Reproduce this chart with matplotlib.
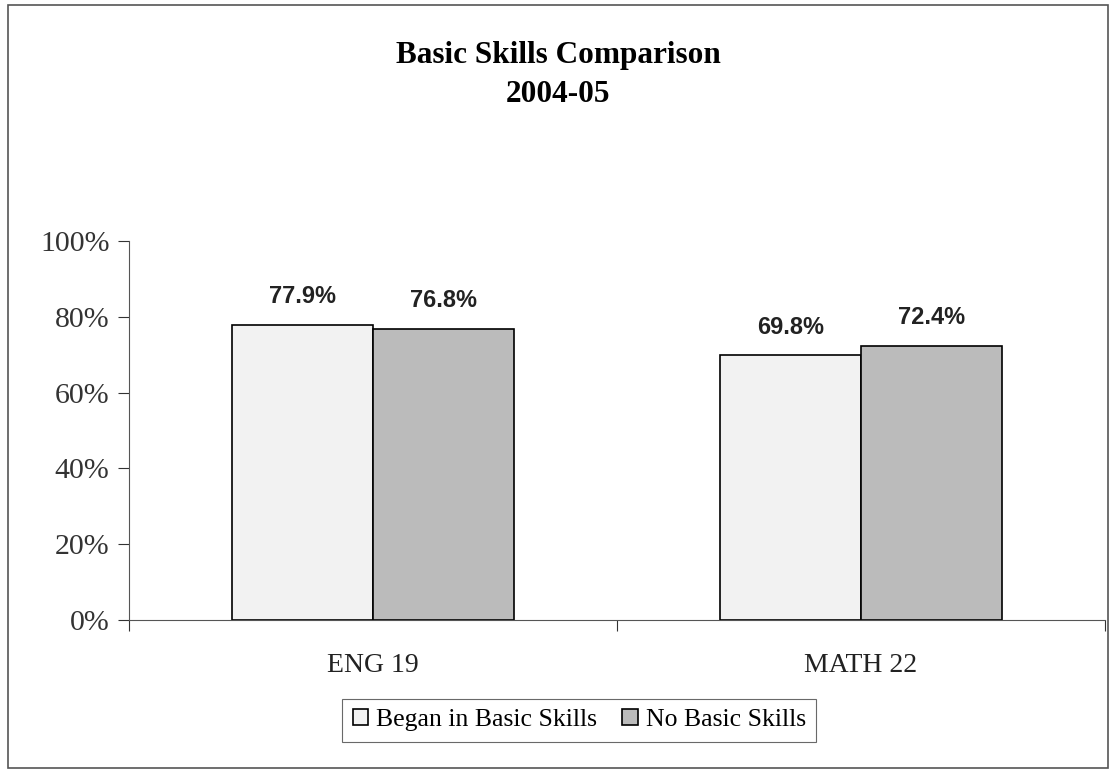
import matplotlib
matplotlib.use('Agg')
import matplotlib.pyplot as plt
import numpy as np
from matplotlib.patches import Rectangle

categories = ['ENG 19', 'MATH 22']
began_basic = [77.9, 69.8]
no_basic = [76.8, 72.4]
series_names = ['Began in Basic Skills', 'No Basic Skills']
yticks = [0, 20, 40, 60, 80, 100]

plt.rcParams['font.family'] = ['Liberation Serif', 'DejaVu Serif']

fig = plt.figure(figsize=(11.16, 7.75), dpi=100)
ax = fig.add_axes([0.1156, 0.2, 0.8744, 0.489])

x = np.arange(len(categories))
w = 0.289
b1 = ax.bar(x - w / 2, began_basic, w, color='#f2f2f2', edgecolor='black', linewidth=1.2,
            label=series_names[0])
b2 = ax.bar(x + w / 2, no_basic, w, color='#bbbbbb', edgecolor='black', linewidth=1.2,
            label=series_names[1])

for bars, vals in ((b1, began_basic), (b2, no_basic)):
    for r, v in zip(bars, vals):
        ax.annotate(f'{v:.1f}%', (r.get_x() + r.get_width() / 2, v), xytext=(0, 12),
                    textcoords='offset points', ha='center', va='bottom',
                    fontsize=17, fontweight='bold', family='Liberation Sans', color='#222222')

ax.set_xlim(-0.5, 1.5)
ax.set_ylim(0, 100)
ax.set_yticks(yticks)
ax.set_yticklabels([f'{t}%' for t in yticks], fontsize=21.5)
ax.tick_params(axis='y', direction='out', length=8, width=0.8, pad=6, colors='#333333')
ax.set_xticks([-0.5, 0.5, 1.5])
ax.set_xticklabels([])
ax.set_xticks(x, minor=True)
ax.set_xticklabels(categories, minor=True, fontsize=20)
ax.tick_params(axis='x', which='major', direction='out', length=8, width=0.8, colors='#333333')
ax.tick_params(axis='x', which='minor', length=0, pad=24, labelcolor='#222222')
for s in ('top', 'right'):
    ax.spines[s].set_visible(False)
ax.spines['left'].set_color('#555555')
ax.spines['bottom'].set_color('#555555')

fig.text(0.5, 0.928, 'Basic Skills Comparison', ha='center', va='center',
         fontsize=22.5, fontweight='bold')
fig.text(0.5, 0.878, '2004-05', ha='center', va='center', fontsize=22.5, fontweight='bold')

leg = fig.legend(handles=[b1, b2], loc='center', ncol=2, fontsize=18.5, frameon=True,
                 fancybox=False, handlelength=0.6, handleheight=0.6, handletextpad=0.3,
                 columnspacing=1.0, borderpad=0.4)
leg.set_bbox_to_anchor((0.519, 0.0706), transform=fig.transFigure)
leg.get_frame().set_edgecolor('#444444')
leg.get_frame().set_linewidth(0.8)

fig.patches.append(Rectangle((0.007, 0.009), 0.986, 0.984, transform=fig.transFigure,
                             fill=False, edgecolor='#555555', linewidth=1.2))

fig.savefig('out.png', dpi=100)
